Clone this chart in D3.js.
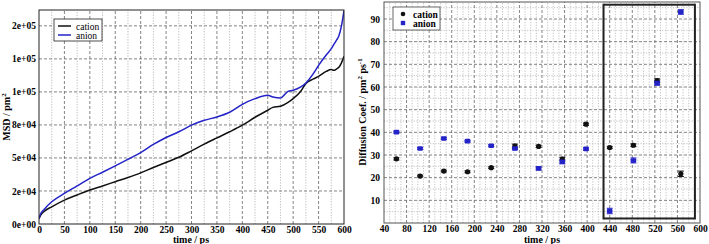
<!DOCTYPE html>
<html>
<head>
<meta charset="utf-8">
<script src="https://cdn.jsdelivr.net/npm/d3@7"></script>
<style>
  body { margin: 0; background: #fff; }
  svg text { font-family: "Liberation Serif", "DejaVu Serif", serif; }
</style>
</head>
<body>
<svg id="drawing_region"></svg>
<script>
// ---- left panel: MSD curves ----
const msdTime = [0, 3, 10, 25, 50, 75, 100, 125, 150, 175, 200, 225, 250, 275, 300, 325, 350, 375, 400, 425, 450, 460, 475, 490, 500, 515, 525, 540, 550, 565, 575, 580, 585, 590, 595, 600];
const msdCation = [4000, 6500, 9500, 13000, 18100, 22000, 25700, 28800, 32000, 35200, 38700, 42800, 46600, 50500, 55400, 60500, 65200, 69800, 74800, 80800, 86100, 88300, 89100, 92000, 94900, 100500, 106300, 109800, 111800, 115500, 116900, 116300, 117300, 118600, 122000, 126900];
const msdAnion = [4000, 7500, 11000, 16800, 23200, 28800, 34500, 39200, 44000, 49000, 54100, 60200, 65500, 69800, 74800, 78500, 81000, 84600, 90600, 94900, 97400, 96200, 95400, 100400, 101200, 103800, 106800, 114000, 120100, 128000, 132700, 136000, 139000, 142500, 150000, 161600];
const msdTicks = [0, 25000, 50000, 75000, 100000, 125000, 150000];
const msdTickLabels = ["0e+00", "2e+04", "5e+04", "8e+04", "1e+05", "1e+05", "2e+05"];
const msdXTicks = [0, 50, 100, 150, 200, 250, 300, 350, 400, 450, 500, 550, 600];

// ---- right panel: diffusion coefficients ----
const dcTime = [62, 104, 146, 188, 230, 272, 314, 356, 398, 440, 482, 524, 566];
const dcCation = [28.3, 20.7, 22.9, 22.6, 24.4, 33.9, 33.8, 28.2, 43.6, 33.3, 34.3, 62.8, 21.7];
const dcCationErr = [0.5, 0.4, 0.4, 0.4, 0.4, 0.9, 0.5, 0.8, 0.5, 0.5, 0.6, 0.8, 1.2];
const dcAnion = [40.1, 32.9, 37.3, 36.1, 34.1, 32.9, 24.1, 27.0, 32.7, 5.3, 27.6, 61.7, 93.1];
const dcAnionErr = [0.4, 0.4, 0.5, 0.4, 0.4, 0.6, 0.7, 0.9, 0.5, 1.2, 1.1, 0.9, 1.0];
const dcXTicks = [40, 80, 120, 160, 200, 240, 280, 320, 360, 400, 440, 480, 520, 560, 600];
const dcYTicks = [10, 20, 30, 40, 50, 60, 70, 80, 90];
const boxRegion = { x0: 429, x1: 591, y0: 2, y1: 96.3 };

const BLUE = "#2323c8";
const svg = d3.select("#drawing_region").attr("width", 709).attr("height", 244);

function grid(g, xs, ys, xTicks, yTicks, dash, color) {
  g.selectAll(null).data(xTicks).enter().append("line")
    .attr("x1", d => xs(d)).attr("x2", d => xs(d))
    .attr("y1", ys.range()[0]).attr("y2", ys.range()[1])
    .attr("stroke", color).attr("stroke-width", 0.8).attr("stroke-dasharray", dash);
  g.selectAll(null).data(yTicks).enter().append("line")
    .attr("y1", d => ys(d)).attr("y2", d => ys(d))
    .attr("x1", xs.range()[0]).attr("x2", xs.range()[1])
    .attr("stroke", color).attr("stroke-width", 0.8).attr("stroke-dasharray", dash);
}

// ================= left chart =================
{
  const xs = d3.scaleLinear().domain([0, 600]).range([39, 344]);
  const ys = d3.scaleLinear().domain([0, 162000]).range([224, 10]);
  const g = svg.append("g");

  const minorX = d3.range(25, 600, 50);
  grid(g, xs, ys, minorX, [], "1.2,1.5", "#aaa");
  grid(g, xs, ys, msdXTicks.slice(1, -1), msdTicks.slice(1), "3,2", "#666");

  g.append("clipPath").attr("id", "clipL").append("rect")
    .attr("x", 39).attr("y", 10).attr("width", 305).attr("height", 214);

  const line = d3.line().x((d, i) => xs(msdTime[i])).y(d => ys(d)).curve(d3.curveMonotoneX);
  g.append("path").attr("d", line(msdCation)).attr("fill", "none")
    .attr("stroke", "#111").attr("stroke-width", 1.5).attr("clip-path", "url(#clipL)");
  g.append("path").attr("d", line(msdAnion)).attr("fill", "none")
    .attr("stroke", BLUE).attr("stroke-width", 1.5).attr("clip-path", "url(#clipL)");

  g.append("rect").attr("x", 39).attr("y", 10).attr("width", 305).attr("height", 214)
    .attr("fill", "none").attr("stroke", "#222").attr("stroke-width", 1);

  const xaxis = d3.axisBottom(xs).tickValues(msdXTicks).tickSize(0).tickPadding(2);
  g.append("g").attr("transform", "translate(0,224)").call(xaxis)
    .call(a => a.select(".domain").remove())
    .selectAll("text").attr("font-size", 9.5).attr("font-weight", "bold")
    .attr("font-family", "Liberation Serif");
  const yaxis = d3.axisLeft(ys).tickValues(msdTicks).tickSize(0).tickPadding(3)
    .tickFormat((d, i) => msdTickLabels[i]);
  g.append("g").attr("transform", "translate(39,0)").call(yaxis)
    .call(a => a.select(".domain").remove())
    .selectAll("text").attr("font-size", 9.5).attr("font-weight", "bold")
    .attr("font-family", "Liberation Serif");

  g.append("text").attr("x", 191).attr("y", 243).attr("text-anchor", "middle")
    .attr("font-size", 10).attr("font-weight", "bold").text("time / ps");
  const yl = g.append("text").attr("transform", "translate(10,117) rotate(-90)")
    .attr("text-anchor", "middle").attr("font-size", 10).attr("font-weight", "bold");
  yl.append("tspan").text("MSD / pm");
  yl.append("tspan").attr("dy", -4).attr("font-size", 7).text("2");

  // legend
  const lg = g.append("g").attr("transform", "translate(54,19)");
  lg.append("rect").attr("width", 48).attr("height", 22).attr("fill", "#fff")
    .attr("stroke", "#222").attr("stroke-width", 0.8);
  [["cation", "#111"], ["anion", BLUE]].forEach((d, i) => {
    lg.append("line").attr("x1", 4).attr("x2", 17).attr("y1", 7 + i * 9).attr("y2", 7 + i * 9)
      .attr("stroke", d[1]).attr("stroke-width", 1.5);
    lg.append("text").attr("x", 22).attr("y", 10.5 + i * 9).attr("font-size", 9.5).text(d[0]);
  });
}

// ================= right chart =================
{
  const xs = d3.scaleLinear().domain([40, 600]).range([384, 700]);
  const ys = d3.scaleLinear().domain([0, 97.5]).range([223, 2]);
  const g = svg.append("g");

  const minorX = d3.range(50, 600, 10).filter(v => (v - 40) % 40 !== 0);
  const minorY = d3.range(5, 97, 10);
  grid(g, xs, ys, minorX, minorY, "1.2,1.5", "#b4b4b4");
  grid(g, xs, ys, dcXTicks.slice(1, -1), dcYTicks, "3,2", "#666");

  g.append("rect").attr("x", 384).attr("y", 2).attr("width", 316).attr("height", 221)
    .attr("fill", "none").attr("stroke", "#555").attr("stroke-width", 1);

  const errBars = (vals, errs, color) => {
    const eg = g.append("g").attr("stroke", color).attr("stroke-width", 1);
    dcTime.forEach((t, i) => {
      const x = xs(t), y0 = ys(vals[i] - errs[i]), y1 = ys(vals[i] + errs[i]);
      eg.append("line").attr("x1", x).attr("x2", x).attr("y1", y0).attr("y2", y1);
      eg.append("line").attr("x1", x - 3).attr("x2", x + 3).attr("y1", y0).attr("y2", y0);
      eg.append("line").attr("x1", x - 3).attr("x2", x + 3).attr("y1", y1).attr("y2", y1);
    });
  };
  errBars(dcCation, dcCationErr, "#111");
  errBars(dcAnion, dcAnionErr, BLUE);

  g.selectAll("circle.cat").data(dcCation).enter().append("circle")
    .attr("cx", (d, i) => xs(dcTime[i])).attr("cy", d => ys(d)).attr("r", 2.6)
    .attr("fill", "#111");
  g.selectAll("rect.an").data(dcAnion).enter().append("rect")
    .attr("x", (d, i) => xs(dcTime[i]) - 2.8).attr("y", d => ys(d) - 2.3)
    .attr("width", 5.6).attr("height", 4.6).attr("rx", 1.2).attr("fill", BLUE);

  g.append("rect").attr("x", xs(boxRegion.x0)).attr("y", ys(boxRegion.y1))
    .attr("width", xs(boxRegion.x1) - xs(boxRegion.x0))
    .attr("height", ys(boxRegion.y0) - ys(boxRegion.y1))
    .attr("fill", "none").attr("stroke", "#222").attr("stroke-width", 2);

  const xaxis = d3.axisBottom(xs).tickValues(dcXTicks).tickSize(0).tickPadding(2);
  g.append("g").attr("transform", "translate(0,223)").call(xaxis)
    .call(a => a.select(".domain").remove())
    .selectAll("text").attr("font-size", 9.5).attr("font-weight", "bold")
    .attr("font-family", "Liberation Serif");
  const yaxis = d3.axisLeft(ys).tickValues(dcYTicks).tickSize(0).tickPadding(4);
  g.append("g").attr("transform", "translate(384,0)").call(yaxis)
    .call(a => a.select(".domain").remove())
    .selectAll("text").attr("font-size", 9.5).attr("font-weight", "bold")
    .attr("font-family", "Liberation Serif");

  g.append("text").attr("x", 542).attr("y", 243).attr("text-anchor", "middle")
    .attr("font-size", 10).attr("font-weight", "bold").text("time / ps");
  const yl = g.append("text").attr("transform", "translate(366,112) rotate(-90)")
    .attr("text-anchor", "middle").attr("font-size", 10).attr("font-weight", "bold");
  yl.append("tspan").text("Diffusion Coef. / pm");
  yl.append("tspan").attr("dy", -4).attr("font-size", 7).text("2");
  yl.append("tspan").attr("dy", 4).text(" ps");
  yl.append("tspan").attr("dy", -4).attr("font-size", 7).text("-1");

  const lg = g.append("g").attr("transform", "translate(393,7)");
  lg.append("rect").attr("width", 47).attr("height", 23).attr("fill", "#fff")
    .attr("stroke", "#444").attr("stroke-width", 0.8);
  lg.append("circle").attr("cx", 10).attr("cy", 7).attr("r", 2.3).attr("fill", "#111");
  lg.append("rect").attr("x", 7.8).attr("y", 13.8).attr("width", 4.4).attr("height", 4.4).attr("fill", BLUE);
  lg.append("text").attr("x", 20).attr("y", 10.5).attr("font-size", 9.5).attr("font-weight", "bold").text("cation");
  lg.append("text").attr("x", 20).attr("y", 19.5).attr("font-size", 9.5).attr("font-weight", "bold").text("anion");
}
</script>
</body>
</html>
